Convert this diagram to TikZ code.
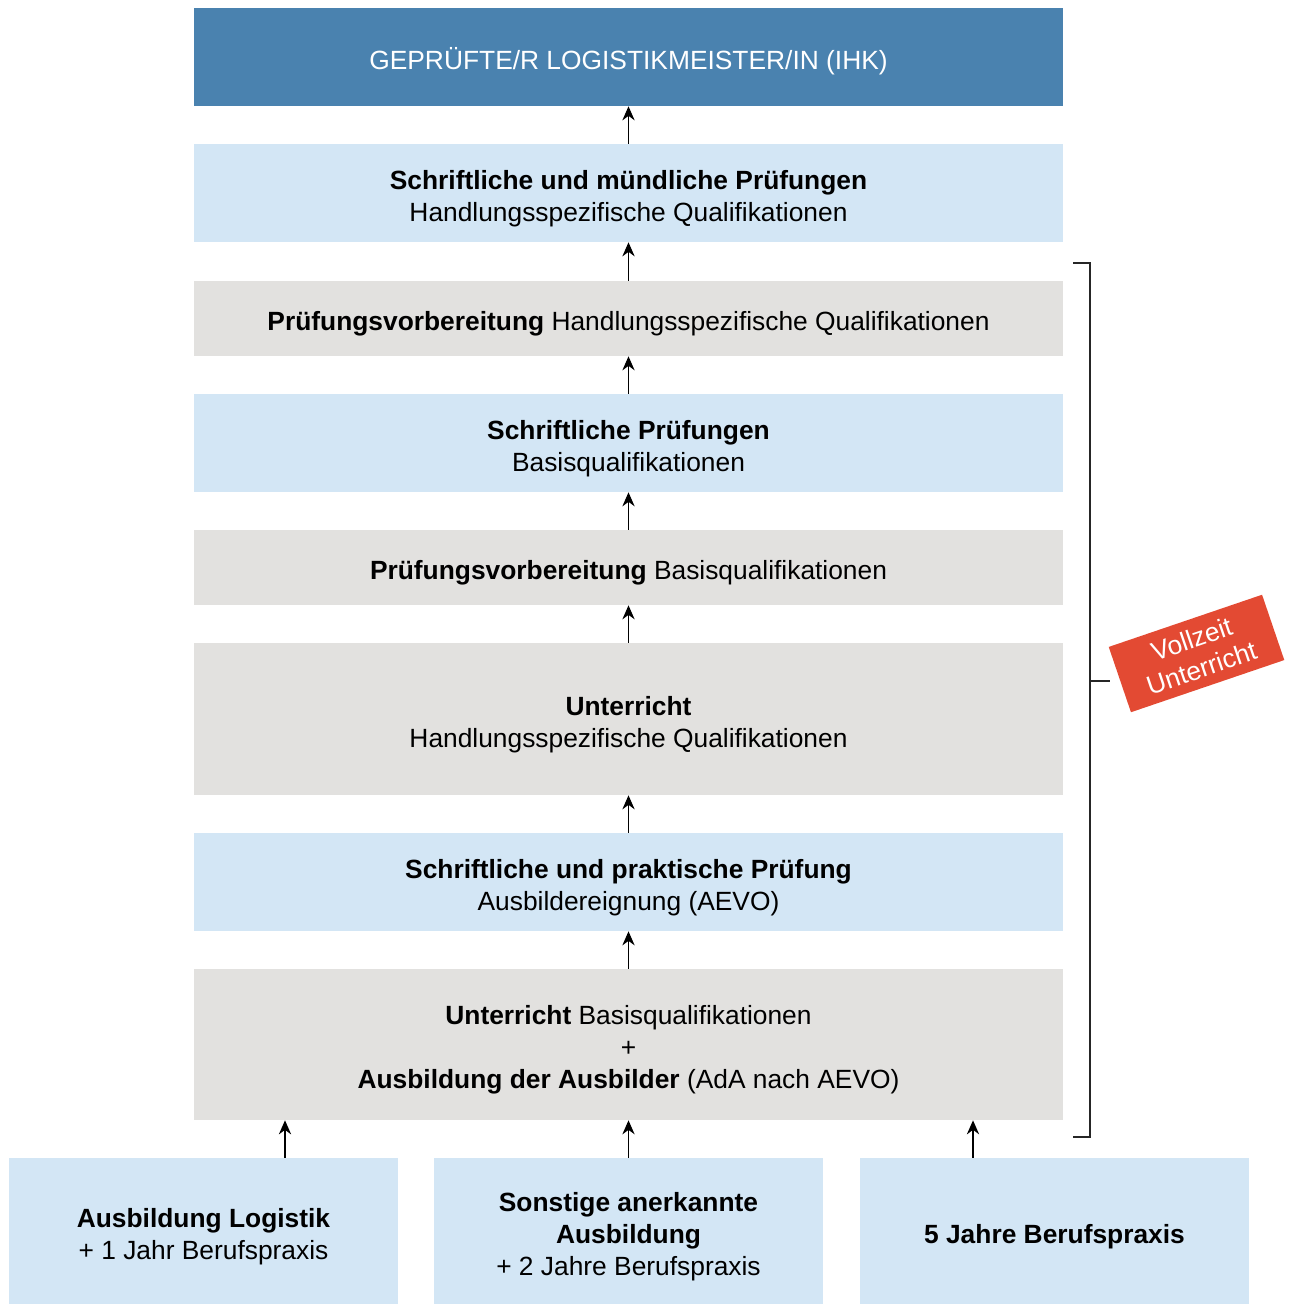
\documentclass[tikz,border=0pt]{standalone}
\usepackage{fontspec}
\setmainfont{Liberation Sans}
\usetikzlibrary{arrows.meta}

\definecolor{headblue}{HTML}{4A82AF}
\definecolor{examblue}{HTML}{D3E6F5}
\definecolor{coursegray}{HTML}{E2E1DF}
\definecolor{tagred}{HTML}{E34A33}

\newcommand{\textlift}{\rule{0pt}{17pt}}

\begin{document}
\begin{tikzpicture}[x=0.02cm, y=0.02cm]

\useasboundingbox (0, 0) rectangle (1291, 1304);

\def\midx{628.5}

% styles

\tikzstyle{stage} = [shape=rectangle, inner sep=0pt, align=center, minimum width=17.38cm,
	font=\fontsize{15}{18.2}\selectfont]
\tikzstyle{head stage} = [stage, fill=headblue, text=white, minimum height=1.96cm]
\tikzstyle{exam stage} = [stage, fill=examblue, minimum height=1.96cm]
\tikzstyle{course stage} = [stage, fill=coursegray]
\tikzstyle{entry box} = [stage, fill=examblue, minimum width=7.78cm, minimum height=2.92cm]

\tikzstyle{step arrow} = [line width=0.75pt, black, -{Stealth[length=8pt, width=7pt]}]
\tikzstyle{bracket line} = [line width=0.75pt, black!85]

% stages

\node [head stage] (meister) at (\midx, 1247) {\textlift GEPRÜFTE/R LOGISTIKMEISTER/IN (IHK)} ;

\node [exam stage] (hqpruefung) at (\midx, 1111)
	{\textlift\textbf{Schriftliche und mündliche Prüfungen}\\Handlungsspezifische Qualifikationen} ;

\node [course stage, minimum height=1.5cm] (hqvorb) at (\midx, 985.5)
	{\textlift\textbf{Prüfungsvorbereitung} Handlungsspezifische Qualifikationen} ;

\node [exam stage] (bqpruefung) at (\midx, 861)
	{\textlift\textbf{Schriftliche Prüfungen}\\Basisqualifikationen} ;

\node [course stage, minimum height=1.5cm] (bqvorb) at (\midx, 736.5)
	{\textlift\textbf{Prüfungsvorbereitung} Basisqualifikationen} ;

\node [course stage, minimum height=3.04cm] (hqunterricht) at (\midx, 585)
	{\textlift\textbf{Unterricht}\\Handlungsspezifische Qualifikationen} ;

\node [exam stage] (aevo) at (\midx, 422)
	{\textlift\textbf{Schriftliche und praktische Prüfung}\\Ausbildereignung (AEVO)} ;

\node [course stage, minimum height=3.02cm] (bqunterricht) at (\midx, 259.5)
	{\textlift\textbf{Unterricht} Basisqualifikationen\\+\\\textbf{Ausbildung der Ausbilder} (AdA nach AEVO)} ;

% entry requirements

\node [entry box] (logistik) at (203.5, 73)
	{\textlift\textbf{Ausbildung Logistik}\\+ 1 Jahr Berufspraxis} ;

\node [entry box] (sonstige) at (\midx, 73)
	{\textlift\textbf{Sonstige anerkannte}\\\textbf{Ausbildung}\\+ 2 Jahre Berufspraxis} ;

\node [entry box] (praxis) at (1054.5, 73)
	{\textlift\textbf{5 Jahre Berufspraxis}} ;

% arrows

\draw [step arrow] (hqpruefung.north) -- (meister.south) ;
\draw [step arrow] (hqvorb.north) -- (hqpruefung.south) ;
\draw [step arrow] (bqpruefung.north) -- (hqvorb.south) ;
\draw [step arrow] (bqvorb.north) -- (bqpruefung.south) ;
\draw [step arrow] (hqunterricht.north) -- (bqvorb.south) ;
\draw [step arrow] (aevo.north) -- (hqunterricht.south) ;
\draw [step arrow] (bqunterricht.north) -- (aevo.south) ;

\coordinate (left foot) at (285, 146) ;
\coordinate (right foot) at (973, 146) ;

\draw [step arrow] (left foot |- logistik.north) -- (left foot |- bqunterricht.south) ;
\draw [step arrow] (sonstige.north) -- (bqunterricht.south) ;
\draw [step arrow] (right foot |- praxis.north) -- (right foot |- bqunterricht.south) ;

% full-time bracket

\draw [bracket line] (1073, 1041) -- (1090, 1041) -- (1090, 167) -- (1073, 167) ;
\draw [bracket line] (1090, 623) -- (1110, 623) ;

\node [shape=rectangle, fill=tagred, text=white, align=center, inner sep=0pt,
	minimum width=3.24cm, minimum height=1.38cm, rotate=18.8,
	font=\fontsize{15}{17.5}\selectfont] (vollzeit) at (1196.5, 650.5)
	{Vollzeit\\Unterricht} ;

\end{tikzpicture}
\end{document}
